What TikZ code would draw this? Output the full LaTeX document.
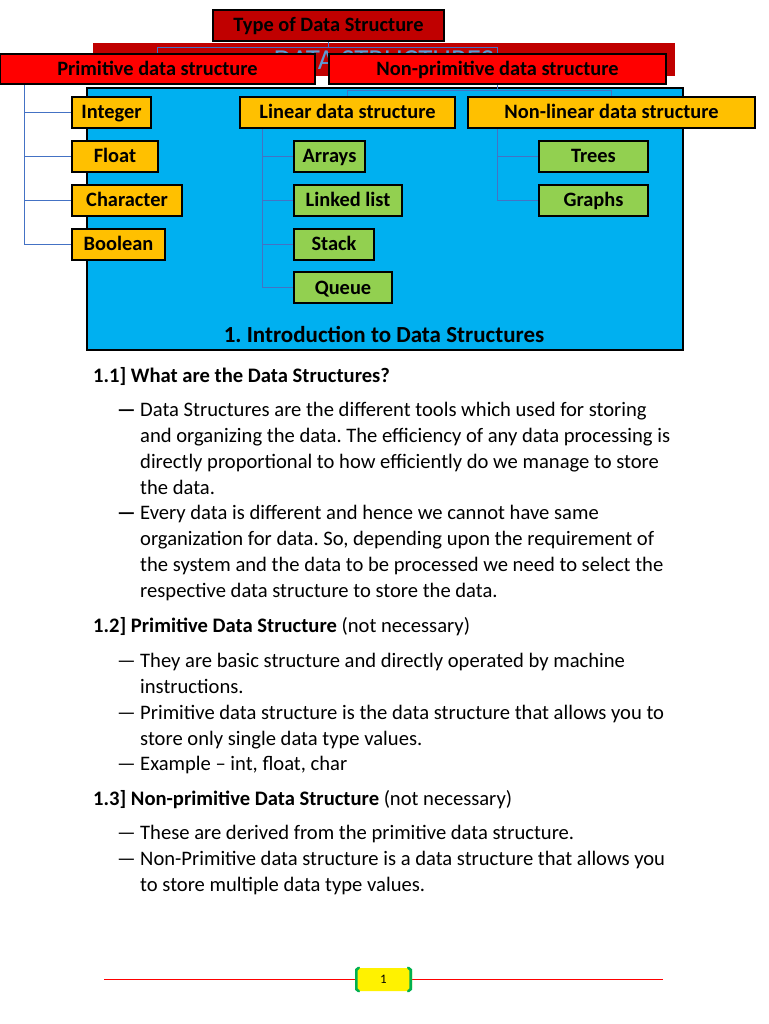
\documentclass[tikz,border=0pt]{standalone}
\usepackage{fontspec}
\setmainfont{Carlito}
\frenchspacing
\definecolor{dred}{HTML}{C00000}
\definecolor{bred}{HTML}{FF0000}
\definecolor{cyanbg}{HTML}{00B0F0}
\definecolor{orng}{HTML}{FFC000}
\definecolor{grn}{HTML}{92D050}
\definecolor{cblue}{HTML}{4472C4}
\definecolor{ghost}{HTML}{5B9BD5}
\definecolor{fgreen}{HTML}{00B050}
\pgfdeclarelayer{panel}
\pgfdeclarelayer{lines}
\pgfsetlayers{panel,lines,main}
\begin{document}
\begin{tikzpicture}[x=1pt,y=-1pt,
  box/.style={draw=black, line width=1.3pt, inner sep=0pt, font=\bfseries\fontsize{20.4}{22}\selectfont, minimum height=31pt, text height=13pt, text depth=0pt},
  redbox/.style={box, fill=bred, minimum height=30pt},
  orbox/.style={box, fill=orng},
  grbox/.style={box, fill=grn},
  conn/.style={draw=cblue, line width=0.9pt},
  body/.style={anchor=base west, inner sep=0pt, align=left, font=\fontsize{20.6}{26}\selectfont},
  dashmark/.style={anchor=base west, inner sep=0pt, font=\fontsize{20.6}{26}\selectfont},
  footline/.style={fill=bred}
]
\useasboundingbox (0,0) rectangle (768,1024);

\begin{pgfonlayer}{panel}
\fill[white] (0,0) rectangle (768,1024);
\fill[dred] (93,43) rectangle (675,76);
\node[inner sep=0pt, anchor=base, text=ghost, font=\fontsize{29}{30}\selectfont] (ghosttxt) at (384,70) {DATA STRUCTURES};
\node[draw=black, line width=2.6pt, fill=cyanbg, minimum width=596pt, minimum height=262pt, inner sep=0pt] (panel) at (385,219) {};
\end{pgfonlayer}

\node[box, fill=dred, minimum width=231pt] (type) at (328.5,25.5) {Type of Data Structure};
\node[redbox, minimum width=315pt] (prim) at (157.5,69) {Primitive data structure};
\node[redbox, minimum width=337pt] (nonprim) at (497.5,69) {Non-primitive data structure};

\node[inner sep=0pt, anchor=base, font=\bfseries\fontsize{23}{25}\selectfont] (title) at (384,342) {1. Introduction to Data Structures};

\node[orbox, minimum width=79pt] (int) at (111.5,112.5) {Integer};
\node[orbox, minimum width=86pt] (flt) at (115,156.5) {Float};
\node[orbox, minimum width=110pt] (chr) at (127,200.5) {Character};
\node[orbox, minimum width=93pt] (bool) at (118.5,244.5) {Boolean};

\node[orbox, minimum width=215pt] (lin) at (347.5,112.5) {Linear data structure};
\node[orbox, minimum width=287pt] (nlin) at (611.5,112.5) {Non-linear data structure};

\node[grbox, minimum width=71pt] (arr) at (329.5,156.5) {Arrays};
\node[grbox, minimum width=108pt] (ll) at (348,200.5) {Linked list};
\node[grbox, minimum width=80pt] (stk) at (334,244.5) {Stack};
\node[grbox, minimum width=98pt] (que) at (343,287.5) {Queue};

\node[grbox, minimum width=109pt] (tree) at (593.5,156.5) {Trees};
\node[grbox, minimum width=109pt] (graph) at (593.5,200.5) {Graphs};

\coordinate (tlev) at (0,47);
\coordinate (ptrunk) at (24,0);
\coordinate (ltrunk) at (262,0);
\coordinate (ntrunk) at (497,0);
\coordinate (nlev) at (0,90);

\begin{pgfonlayer}{lines}
\draw[conn] (type.south) -- (type.south |- tlev) coordinate (tj);
\draw[conn] (tj) -| (prim.north);
\draw[conn] (tj) -| (nonprim.north);

\draw[conn] (prim.south -| ptrunk) |- (int.west);
\draw[conn] (prim.south -| ptrunk) |- (flt.west);
\draw[conn] (prim.south -| ptrunk) |- (chr.west);
\draw[conn] (prim.south -| ptrunk) |- (bool.west);

\draw[conn] (nonprim.south) -- (nonprim.south |- nlev) coordinate (nj);
\draw[conn] (nj) -| (lin.north);
\draw[conn] (nj) -| (nlin.north);

\draw[conn] (lin.south -| ltrunk) |- (arr.west);
\draw[conn] (lin.south -| ltrunk) |- (ll.west);
\draw[conn] (lin.south -| ltrunk) |- (stk.west);
\draw[conn] (lin.south -| ltrunk) |- (que.west);

\draw[conn] (nlin.south -| ntrunk) |- (tree.west);
\draw[conn] (nlin.south -| ntrunk) |- (graph.west);
\end{pgfonlayer}

% body text (multi-line nodes are placed by the baseline of their last line)
\node[body, font=\bfseries\fontsize{20.6}{26}\selectfont] (h1) at (93,382) {1.1] What are the Data Structures?};
\node[dashmark, font=\bfseries\fontsize{20.6}{26}\selectfont] (d1) at (117,416) {—};
\node[body] (p1) at (140,494) {Data Structures are the different tools which used for storing\\and organizing the data. The efficiency of any data processing is\\directly proportional to how efficiently do we manage to store\\the data.};
\node[dashmark, font=\bfseries\fontsize{20.6}{26}\selectfont] (d2) at (117,519) {—};
\node[body] (p2) at (140,597) {Every data is different and hence we cannot have same\\organization for data. So, depending upon the requirement of\\the system and the data to be processed we need to select the\\respective data structure to store the data.};

\node[body] (h2) at (93,632) {\textbf{1.2] Primitive Data Structure} (not necessary)};
\node[dashmark] (d3) at (117,667) {—};
\node[body] (p3) at (140,693) {They are basic structure and directly operated by machine\\instructions.};
\node[dashmark] (d4) at (117,719) {—};
\node[body] (p4) at (140,745) {Primitive data structure is the data structure that allows you to\\store only single data type values.};
\node[dashmark] (d5) at (117,770) {—};
\node[body] (p5) at (140,770) {Example – int, float, char};

\node[body] (h3) at (93,805) {\textbf{1.3] Non-primitive Data Structure} (not necessary)};
\node[dashmark] (d6) at (117,839) {—};
\node[body] (p6) at (140,839) {These are derived from the primitive data structure.};
\node[dashmark] (d7) at (117,865) {—};
\node[body] (p7) at (140,891) {Non-Primitive data structure is a data structure that allows you\\to store multiple data type values.};

% footer
\coordinate (fl) at (104,978.9);
\coordinate (fr) at (663,980.1);
\fill[footline] (fl) rectangle (fr);
\node[fill=yellow, rounded corners=3pt, minimum width=57pt, minimum height=23pt, inner sep=0pt, font=\fontsize{13}{14}\selectfont] (pg) at (383.5,979.5) {1};
\draw[draw=fgreen, line width=2.6pt, line cap=round] ([xshift=4pt]pg.north west) -- ([xshift=1.5pt,yshift=-2pt]pg.north west) -- ([xshift=1.5pt,yshift=2pt]pg.south west) -- ([xshift=4pt]pg.south west);
\draw[draw=fgreen, line width=2.6pt, line cap=round] ([xshift=-4pt]pg.north east) -- ([xshift=-1.5pt,yshift=-2pt]pg.north east) -- ([xshift=-1.5pt,yshift=2pt]pg.south east) -- ([xshift=-4pt]pg.south east);
\end{tikzpicture}
\end{document}
